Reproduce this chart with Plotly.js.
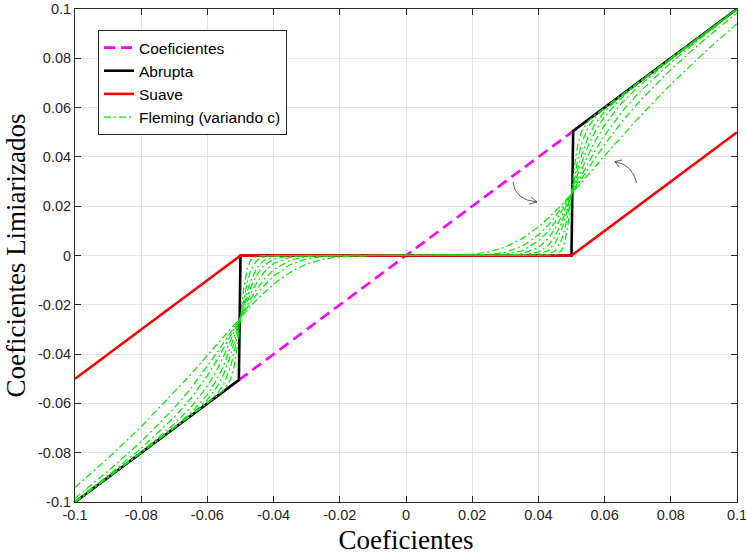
<!DOCTYPE html>
<html>
<head>
<meta charset="utf-8">
<script src="https://cdn.plot.ly/plotly-3.0.1.min.js"></script>
<style>html,body{margin:0;padding:0;background:#fff;}#chart{width:746px;height:559px;}</style>
</head>
<body>
<div id="chart"></div>
<script>
// ---- data ----
const coefX = [-0.1, 0.1];
const coefY = [-0.1, 0.1];

const abruptaX = [-0.1, -0.0505, -0.05, 0.05, 0.0505, 0.1];
const abruptaY = [-0.1, -0.0505, 0, 0, 0.0505, 0.1];

const suaveX = [-0.1, -0.05, 0.05, 0.1];
const suaveY = [-0.05, 0, 0, 0.05];

const flemX = [-0.1,-0.09,-0.08,-0.07,-0.065,-0.06,-0.057,-0.055,-0.053,-0.052,-0.051,-0.05,-0.049,-0.048,-0.047,-0.045,-0.043,-0.04,-0.035,-0.03,-0.025,-0.02,-0.01,0,0.01,0.02,0.025,0.03,0.035,0.04,0.043,0.045,0.047,0.048,0.049,0.05,0.051,0.052,0.053,0.055,0.057,0.06,0.065,0.07,0.08,0.09,0.1];

const flemC1 = [-0.0941,-0.0822,-0.0694,-0.0555,-0.0482,-0.0405,-0.0358,-0.0327,-0.0296,-0.028,-0.0265,-0.025,-0.0235,-0.0221,-0.0206,-0.0178,-0.0152,-0.0116,-0.0068,-0.0034,-0.0015,-0.0005,0,0,0,0.0005,0.0015,0.0034,0.0068,0.0116,0.0152,0.0178,0.0206,0.0221,0.0235,0.025,0.0265,0.028,0.0296,0.0327,0.0358,0.0405,0.0482,0.0555,0.0694,0.0822,0.0941];
const flemC2 = [-0.0985,-0.0874,-0.0755,-0.0618,-0.0539,-0.045,-0.0392,-0.0352,-0.0311,-0.0291,-0.027,-0.025,-0.023,-0.0211,-0.0192,-0.0156,-0.0124,-0.0083,-0.0037,-0.0013,-0.0004,-0.0001,0,0,0,0.0001,0.0004,0.0013,0.0037,0.0083,0.0124,0.0156,0.0192,0.0211,0.023,0.025,0.027,0.0291,0.0311,0.0352,0.0392,0.045,0.0539,0.0618,0.0755,0.0874,0.0985];
const flemC3 = [-0.0996,-0.0892,-0.0782,-0.0656,-0.0579,-0.0487,-0.0422,-0.0375,-0.0326,-0.0301,-0.0275,-0.025,-0.0225,-0.0201,-0.0178,-0.0135,-0.0099,-0.0058,-0.0019,-0.0005,-0.0001,0,0,0,0,0,0.0001,0.0005,0.0019,0.0058,0.0099,0.0135,0.0178,0.0201,0.0225,0.025,0.0275,0.0301,0.0326,0.0375,0.0422,0.0487,0.0579,0.0656,0.0782,0.0892,0.0996];
const flemC4 = [-0.1,-0.0899,-0.0796,-0.0683,-0.0616,-0.0529,-0.0461,-0.0407,-0.0347,-0.0315,-0.0283,-0.025,-0.0218,-0.0187,-0.0158,-0.0108,-0.0069,-0.0032,-0.0007,-0.0001,0,0,0,0,0,0,0,0.0001,0.0007,0.0032,0.0069,0.0108,0.0158,0.0187,0.0218,0.025,0.0283,0.0315,0.0347,0.0407,0.0461,0.0529,0.0616,0.0683,0.0796,0.0899,0.1];
const flemC5 = [-0.1,-0.09,-0.0799,-0.0696,-0.0638,-0.0564,-0.05,-0.0444,-0.0374,-0.0334,-0.0293,-0.025,-0.0208,-0.0169,-0.0133,-0.0077,-0.0041,-0.0014,-0.0002,0,0,0,0,0,0,0,0,0,0.0002,0.0014,0.0041,0.0077,0.0133,0.0169,0.0208,0.025,0.0293,0.0334,0.0374,0.0444,0.05,0.0564,0.0638,0.0696,0.0799,0.09,0.1];
const flemC6 = [-0.1,-0.09,-0.08,-0.0699,-0.0647,-0.0585,-0.0531,-0.0479,-0.0404,-0.0357,-0.0305,-0.025,-0.0196,-0.0147,-0.0106,-0.0049,-0.002,-0.0005,0,0,0,0,0,0,0,0,0,0,0,0.0005,0.002,0.0049,0.0106,0.0147,0.0196,0.025,0.0305,0.0357,0.0404,0.0479,0.0531,0.0585,0.0647,0.0699,0.08,0.09,0.1];
const flemC7 = [-0.1,-0.09,-0.08,-0.07,-0.065,-0.0598,-0.0559,-0.052,-0.0452,-0.0397,-0.0329,-0.025,-0.0173,-0.0109,-0.0064,-0.0018,-0.0005,0,0,0,0,0,0,0,0,0,0,0,0,0,0.0005,0.0018,0.0064,0.0109,0.0173,0.025,0.0329,0.0397,0.0452,0.052,0.0559,0.0598,0.065,0.07,0.08,0.09,0.1];
const flemC8 = [-0.1,-0.09,-0.08,-0.07,-0.065,-0.06,-0.0569,-0.0545,-0.0503,-0.0456,-0.0372,-0.025,-0.0131,-0.0055,-0.002,-0.0002,0,0,0,0,0,0,0,0,0,0,0,0,0,0,0,0.0002,0.002,0.0055,0.0131,0.025,0.0372,0.0456,0.0503,0.0545,0.0569,0.06,0.065,0.07,0.08,0.09,0.1];

const tickVals = [-0.1,-0.08,-0.06,-0.04,-0.02,0,0.02,0.04,0.06,0.08,0.1];
const tickText = ['-0.1','-0.08','-0.06','-0.04','-0.02','0','0.02','0.04','0.06','0.08','0.1'];

const names = ['Coeficientes','Abrupta','Suave','Fleming (variando c)'];
const xTitle = 'Coeficientes';
const yTitle = 'Coeficientes Limiarizados';

// ---- traces ----
const traces = [];
traces.push({x: coefX, y: coefY, mode: 'lines', name: names[0],
  line: {color: '#ff00ff', width: 2.6, dash: '11px,6px'}});
traces.push({x: abruptaX, y: abruptaY, mode: 'lines', name: names[1],
  line: {color: '#000000', width: 2.6}});
traces.push({x: suaveX, y: suaveY, mode: 'lines', name: names[2],
  line: {color: '#ff0000', width: 2.6}});
const flemSeries = [flemC1, flemC2, flemC3, flemC4, flemC5, flemC6, flemC7, flemC8];
flemSeries.forEach(function (ys, i) {
  traces.push({x: flemX, y: ys, mode: 'lines', name: names[3],
    showlegend: i === 0, legendgroup: 'flem',
    line: {color: '#00e800', width: 1.2, dash: '7px,3px,2px,3px'}});
});

const axisCommon = {
  showline: true, linecolor: '#262626', linewidth: 1, mirror: 'ticks',
  ticks: 'inside', ticklen: 6, tickcolor: '#262626', tickwidth: 1,
  showgrid: true, gridcolor: '#e3e3e3', gridwidth: 1, zeroline: false,
  tickfont: {family: 'Liberation Sans, Arial', size: 14.5, color: '#262626'},
  tickmode: 'array', tickvals: tickVals, ticktext: tickText,
  ticklabeloverflow: 'allow'
};

const arrowColor = '#333333';
const layout = {
  width: 746, height: 559,
  margin: {l: 75, r: 9, t: 9, b: 57, pad: 0},
  paper_bgcolor: '#ffffff', plot_bgcolor: '#ffffff',
  showlegend: true,
  xaxis: Object.assign({}, axisCommon, {
    range: [-0.1, 0.1],
    title: {text: xTitle, standoff: 7,
      font: {family: 'Liberation Serif, Times New Roman', size: 27, color: '#000'}}
  }),
  yaxis: Object.assign({}, axisCommon, {
    range: [-0.1, 0.1],
    title: {text: yTitle, standoff: 4,
      font: {family: 'Liberation Serif, Times New Roman', size: 27, color: '#000'}}
  }),
  legend: {
    x: 0.0347, y: 0.9574, xanchor: 'left', yanchor: 'top',
    bgcolor: '#ffffff', bordercolor: '#262626', borderwidth: 1,
    font: {family: 'Liberation Sans, Arial', size: 15.5, color: '#000'},
    tracegroupgap: 0
  },
  shapes: [
    {type: 'path', xref: 'x', yref: 'y',
     path: 'M 0.0323 0.0298 Q 0.0329 0.0225 0.0396 0.0217',
     line: {color: arrowColor, width: 0.8}},
    {type: 'path', xref: 'x', yref: 'y',
     path: 'M 0.0378 0.0237 L 0.0396 0.0217 L 0.0372 0.0209',
     line: {color: arrowColor, width: 0.8}},
    {type: 'path', xref: 'x', yref: 'y',
     path: 'M 0.0697 0.0293 Q 0.0686 0.0367 0.0631 0.0381',
     line: {color: arrowColor, width: 0.8}},
    {type: 'path', xref: 'x', yref: 'y',
     path: 'M 0.06526 0.03874 L 0.0631 0.0381 L 0.06435 0.0359',
     line: {color: arrowColor, width: 0.8}}
  ]
};

Plotly.newPlot('chart', traces, layout, {displayModeBar: false, staticPlot: true});
</script>
</body>
</html>
